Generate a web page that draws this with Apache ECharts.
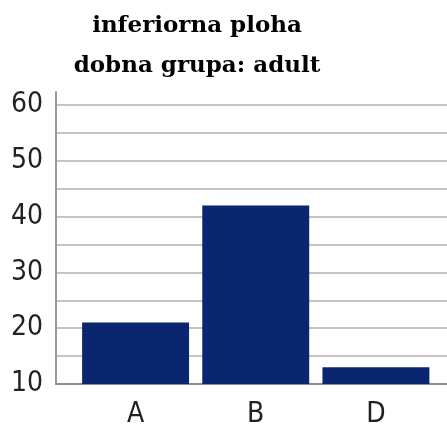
<!DOCTYPE html>
<html>
<head>
<meta charset="utf-8">
<script src="https://cdn.jsdelivr.net/npm/echarts@6/dist/echarts.min.js"></script>
<style>html,body{margin:0;padding:0;background:#fff;}#c{width:447px;height:429px;}</style>
</head>
<body>
<div id="c"></div>
<script>
var titleLines = ['inferiorna ploha', 'dobna grupa: adult'];
var categories = ['A', 'B', 'D'];
var values = [21, 42, 13];
var yMin = 10, yMax = 60, yStep = 10;
var axisTop = 62.3;

var chart = echarts.init(document.getElementById('c'), null, {renderer: 'canvas'});
var labelFont = {fontFamily: '"DejaVu Sans Condensed", "DejaVu Sans"', fontSize: 28, color: '#222'};
chart.setOption({
  animation: false,
  backgroundColor: '#fff',
  title: {
    text: titleLines.join('\n'),
    left: 192, top: 1, textAlign: 'center',
    textStyle: {fontFamily: 'DejaVu Serif', fontWeight: 'bold', fontSize: 23, lineHeight: 40, color: '#000'}
  },
  grid: [
    {left: 56, right: 0, top: 92, bottom: 45},
    {left: 56, right: 0, top: 105, bottom: 45},
    {left: 75.5, right: 11, top: 105, bottom: 45}
  ],
  xAxis: [
    {gridIndex: 0, type: 'category', data: categories, axisLine: {show: true, lineStyle: {color: '#8c8c8c', width: 2}}, axisTick: {show: false}, axisLabel: {show: false}},
    {gridIndex: 1, type: 'category', data: categories, show: false},
    {gridIndex: 2, type: 'category', data: categories, axisLine: {show: false}, axisTick: {show: false},
     axisLabel: Object.assign({margin: 17}, labelFont)}
  ],
  yAxis: [
    {gridIndex: 0, type: 'value', min: yMin, max: axisTop, axisLine: {show: true, lineStyle: {color: '#9a9a9a', width: 2}}, axisTick: {show: false}, axisLabel: {show: false}, splitLine: {show: false}},
    {gridIndex: 1, type: 'value', min: yMin, max: yMax, interval: yStep, axisLine: {show: false}, axisTick: {show: false},
     axisLabel: Object.assign({margin: 13}, labelFont),
     splitLine: {show: true, lineStyle: {color: '#c4c4c4', width: 2}},
     minorTick: {show: false, splitNumber: 2},
     minorSplitLine: {show: true, lineStyle: {color: '#c4c4c4', width: 2}}},
    {gridIndex: 2, type: 'value', min: yMin, max: yMax, show: false}
  ],
  series: [{
    type: 'bar', xAxisIndex: 2, yAxisIndex: 2, data: values,
    barCategoryGap: '11%',
    itemStyle: {color: '#0a2670'}
  }]
});
</script>
</body>
</html>
